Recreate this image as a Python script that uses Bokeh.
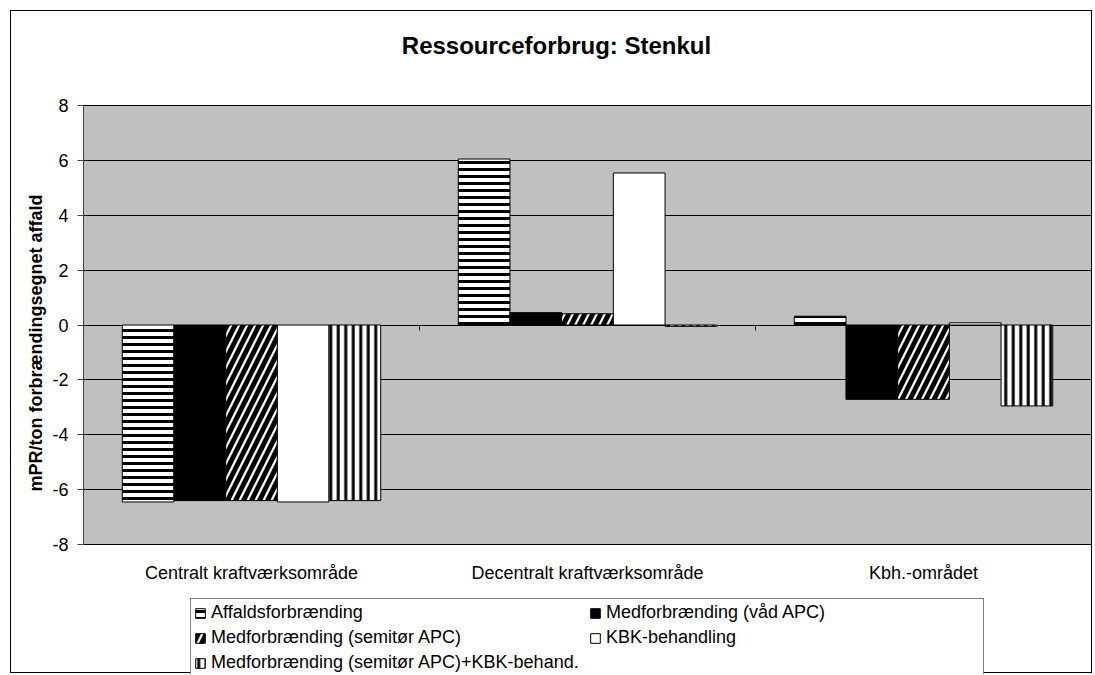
from bokeh.plotting import figure
from bokeh.models import (ColumnDataSource, FactorRange, Range1d, FixedTicker, Legend, LegendItem,
                          BoxAnnotation, Label)
from bokeh.transform import dodge
from bokeh.embed import file_html
from bokeh.resources import INLINE

categories = ["Centralt kraftværksområde", "Decentralt kraftværksområde", "Kbh.-området"]
series_names = [
    "Affaldsforbrænding",
    "Medforbrænding (våd APC)",
    "Medforbrænding (semitør APC)",
    "KBK-behandling",
    "Medforbrænding (semitør APC)+KBK-behand.",
]
affald = [-6.45, 6.05, 0.32]
vaad_apc = [-6.4, 0.45, -2.71]
semitor_apc = [-6.4, 0.41, -2.71]
kbk = [-6.45, 5.54, 0.08]
semitor_kbk = [-6.4, -0.05, -2.95]
y_ticks = [-8, -6, -4, -2, 0, 2, 4, 6, 8]

title_text = "Ressourceforbrug: Stenkul"
y_label = "mPR/ton forbrændingsegnet affald"

FONT = "Liberation Sans"

# layout geometry (pixels, relative to the canvas)
W, H = 1082, 663
AREA_TOP = 94            # top of the gray plot area
AREA_H = 439             # pixel height of the value axis span (-8..8)
y_lo, y_hi = y_ticks[0], y_ticks[-1]
px_per_unit = AREA_H / (y_hi - y_lo)
y_start = y_lo - (H - AREA_TOP - AREA_H) / px_per_unit
y_end = y_hi + AREA_TOP / px_per_unit

src = ColumnDataSource(dict(
    cat=categories,
    s0=affald, s1=vaad_apc, s2=semitor_apc, s3=kbk, s4=semitor_kbk,
))

p = figure(
    width=W, height=H,
    x_range=FactorRange(*categories),
    y_range=Range1d(y_start, y_end),
    output_backend="svg", toolbar_location=None,
    min_border_left=72, min_border_right=2, min_border_top=0, min_border_bottom=0,
)
p.margin = (10, 0, 0, 10)
p.styles = {"border": "1px solid black"}
p.background_fill_color = "white"
p.border_fill_color = "white"
p.outline_line_color = None

# gray plot area
p.add_layout(BoxAnnotation(bottom=y_lo, top=y_hi, fill_color="#C0C0C0", fill_alpha=1,
                           line_color="#808080", line_width=1, level="image"))

# title
p.add_layout(Label(text=title_text, x=473, y=H - 34, x_units="screen", y_units="screen",
                   text_align="center", text_baseline="middle",
                   text_font=FONT, text_font_size="24px", text_font_style="bold", text_color="black"))

# grids
p.xgrid.grid_line_color = None
p.ygrid.grid_line_color = "black"
p.ygrid.grid_line_width = 1
p.ygrid.bounds = (y_lo, y_hi)
p.yaxis.ticker = FixedTicker(ticks=y_ticks)
p.yaxis.major_label_overrides = {t: str(t) for t in y_ticks}
p.yaxis.bounds = (y_lo, y_hi)

# y axis
p.yaxis.axis_label = y_label
p.yaxis.axis_label_text_font = FONT
p.yaxis.axis_label_text_font_size = "18px"
p.yaxis.axis_label_text_font_style = "bold"
p.yaxis.axis_label_text_color = "black"
p.yaxis.axis_label_standoff = 3
p.yaxis.major_label_text_font = FONT
p.yaxis.major_label_text_font_size = "18px"
p.yaxis.major_label_text_color = "black"
p.yaxis.major_label_standoff = 9
p.yaxis.major_tick_out = 6
p.yaxis.major_tick_in = 0
p.yaxis.minor_tick_line_color = None
p.yaxis.axis_line_color = "#404040"
p.yaxis.major_tick_line_color = "#404040"

# x axis (category labels under the plot area)
p.xaxis.fixed_location = y_lo
p.xaxis.axis_line_color = None
p.xaxis.major_tick_line_color = None
p.xaxis.minor_tick_line_color = None
p.xaxis.major_label_text_font = FONT
p.xaxis.major_label_text_font_size = "18px"
p.xaxis.major_label_text_color = "black"
p.xaxis.major_label_standoff = 12

n = len(series_names)
bar_w = 1.0 / 6.5
styles = [
    dict(fill_color="white", hatch_pattern="horizontal_line", hatch_scale=7, hatch_weight=3, hatch_color="black"),
    dict(fill_color="black"),
    dict(fill_color="white", hatch_pattern="right_diagonal_line", hatch_scale=16, hatch_weight=5, hatch_color="black"),
    dict(fill_color="white"),
    dict(fill_color="white", hatch_pattern="vertical_line", hatch_scale=7.5, hatch_weight=3, hatch_color="black"),
]
items = []
for i, name in enumerate(series_names):
    off = (i - (n - 1) / 2) * bar_w
    r = p.vbar(x=dodge("cat", off, range=p.x_range), top="s%d" % i, bottom=0, width=bar_w,
               source=src, line_color="black", line_width=1, **styles[i])
    items.append(LegendItem(label=name, renderers=[r]))

# category axis tick marks at the zero line between categories
bounds = list(range(1, len(categories)))
p.segment(x0=bounds, y0=[0] * len(bounds), x1=bounds, y1=[-0.2] * len(bounds), line_color="black")

legend = Legend(
    items=items, location=(107, -3), orientation="horizontal", ncols=2,
    label_text_font=FONT, label_text_font_size="18px", label_text_color="black",
    label_standoff=5, label_width=374, label_height=21, glyph_width=12, glyph_height=12,
    spacing=4, padding=3, margin=0,
    border_line_color="black", border_line_width=1, background_fill_color="white", background_fill_alpha=1,
)
p.add_layout(legend, "center")

open("out.html", "w").write(file_html(p, INLINE))
